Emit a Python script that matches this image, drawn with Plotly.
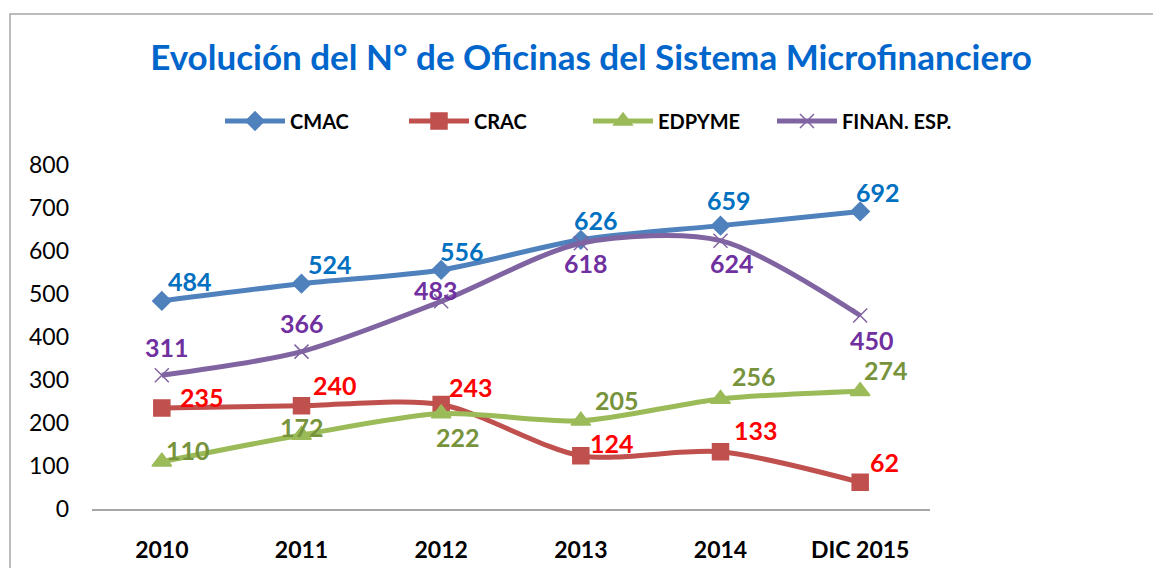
import plotly.graph_objects as go

categories = ["2010", "2011", "2012", "2013", "2014", "DIC 2015"]
cmac = [484, 524, 556, 626, 659, 692]
crac = [235, 240, 243, 124, 133, 62]
edpyme = [110, 172, 222, 205, 256, 274]
finan = [311, 366, 483, 618, 624, 450]
y_ticks = [0, 100, 200, 300, 400, 500, 600, 700, 800]

FONT = "Lato"
OFF = 8  # default body margin of the html page
W, H = 1161 - OFF, 568 - OFF
series = [
    ("CMAC", cmac, "#4F81BD", "diamond", 14, "#0070C0",
     [(28, -20), (28, -20), (21, -19), (15, -20), (8, -26), (18, -19)]),
    ("CRAC", crac, "#C0504D", "square", 16, "#FF0000",
     [(40, -11), (33, -21), (30, -18), (31, -13), (35, -22), (24, -20)]),
    ("EDPYME", edpyme, "#9BBB59", "triangle-up", 17, "#77933C",
     [(26, -12), (0, -8), (17, 23), (36, -21), (33, -23), (26, -21)]),
    ("FINAN. ESP.", finan, "#8064A2", "x-thin-open", 14, "#7030A0",
     [(5, -28), (0, -29), (-5, -11), (5, 20), (11, 22), (12, 24)]),
]

fig = go.Figure()
annotations = []
for name, vals, col, sym, msize, lcol, offs in series:
    fig.add_trace(go.Scatter(
        x=categories, y=vals, name=f"<b>{name}</b>", mode="lines+markers",
        line=dict(color=col, width=5, shape="spline", smoothing=0.8),
        marker=dict(symbol=sym, size=msize, color=col,
                    line=dict(color=col, width=1.5)),
    ))
    for i, (v, (dx, dy)) in enumerate(zip(vals, offs)):
        annotations.append(dict(
            x=i, y=v, xref="x", yref="y", text=f"<b>{v}</b>", showarrow=False,
            xshift=dx, yshift=-dy, font=dict(family=FONT, size=25, color=lcol),
        ))

L, R, T, B = 92 - OFF, 1161 - 930, 165 - OFF, 568 - 509
PW, PH = W - L - R, H - T - B

fig.update_layout(
    width=W, height=H,
    margin=dict(l=L, r=R, t=T, b=B, autoexpand=False),
    paper_bgcolor="white", plot_bgcolor="white",
    title=dict(text="<b>Evolución del N° de Oficinas del Sistema Microfinanciero</b>",
               x=(591 - OFF) / W, xanchor="center", y=1 - (58 - OFF) / H, yanchor="middle",
               font=dict(family=FONT, size=35, color="#0066CC")),
    legend=dict(orientation="h", x=(220 - 92) / PW, xanchor="left",
                y=(509 - 121) / PH, yanchor="middle",
                font=dict(family=FONT, size=20, color="black"),
                itemwidth=60, entrywidth=109, entrywidthmode="pixels",
                bgcolor="rgba(0,0,0,0)"),
    showlegend=True,
    annotations=annotations,
    shapes=[dict(type="rect", xref="paper", yref="paper",
                 x0=(10 - 92) / PW, x1=(1170 - 92) / PW,
                 y0=(509 - 580) / PH, y1=(509 - 14) / PH,
                 line=dict(color="#A6A6A6", width=1.5), layer="below")],
)
fig.update_xaxes(type="category", range=[-0.5, 5.5], showgrid=False,
                 showline=True, linecolor="#A6A6A6", linewidth=1.5,
                 ticks="", ticklabelstandoff=20,
                 tickfont=dict(family=FONT, size=23, color="black"),
                 tickprefix="<b>", ticksuffix="</b>")
fig.update_yaxes(range=[0, 800], tickvals=y_ticks, showgrid=False,
                 zeroline=False, showline=False, ticks="",
                 ticklabelstandoff=22,
                 tickfont=dict(family=FONT, size=23, color="black"))

fig.write_html("out.html")
